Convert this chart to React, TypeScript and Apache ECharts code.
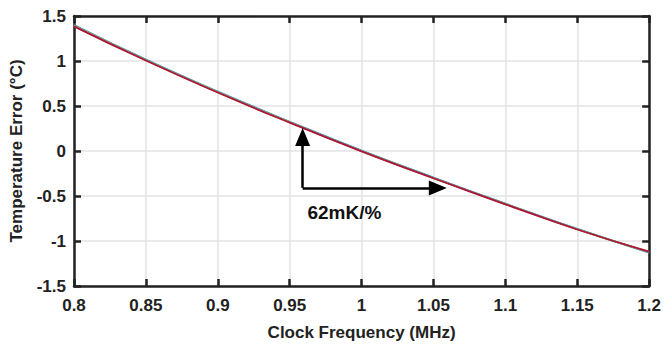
import React, { useEffect, useRef } from "react";
import * as echarts from "echarts";

const freqs = [0.8, 0.85, 0.9, 0.95, 1.0, 1.05, 1.1, 1.15, 1.2];
const errBlue = [1.4, 1.015, 0.66, 0.325, 0.005, -0.295, -0.585, -0.865, -1.13];
const errTeal = [1.395, 1.012, 0.656, 0.322, 0.002, -0.298, -0.588, -0.868, -1.125];
const errGreen = [1.39, 1.008, 0.652, 0.318, -0.002, -0.301, -0.59, -0.87, -1.12];
const errRed = [1.385, 1.005, 0.65, 0.315, -0.004, -0.303, -0.592, -0.872, -1.118];
const xTicks = [0.8, 0.85, 0.9, 0.95, 1, 1.05, 1.1, 1.15, 1.2];
const yTicks = [-1.5, -1, -0.5, 0, 0.5, 1, 1.5];
// arrow anchors (centre of each arrowhead)
const arrowCorner = [0.959, -0.41];
const arrowUpHead = [0.959, 0.155];
const arrowRightHead = [1.053, -0.41];
const slopeLabel = "62mK/%";

const FONT = "'Liberation Sans', Arial, sans-serif";

export default function App() {
  const ref = useRef<HTMLDivElement>(null);
  useEffect(() => {
    const chart = echarts.init(ref.current!, null, { renderer: "svg" });
    const mk = (data: number[], color: string, extra: any = {}) => ({
      type: "line",
      data: freqs.map((f, i) => [f, data[i]]),
      showSymbol: false,
      smooth: true,
      lineStyle: { color, width: 1.8 },
      z: 3,
      ...extra,
    });
    const boxLine = { show: true, onZero: false, lineStyle: { color: "#222", width: 2.5 } };
    const boxTick = { show: true, inside: true, length: 7, lineStyle: { color: "#222", width: 2.5 } };
    chart.setOption({
      animation: false,
      grid: { left: 74, right: 12, top: 16, bottom: 64 },
      xAxis: [
        {
          type: "value",
          min: 0.8,
          max: 1.2,
          interval: 0.05,
          name: "Clock Frequency (MHz)",
          nameLocation: "middle",
          nameGap: 38,
          nameTextStyle: { fontFamily: FONT, fontWeight: "bold", fontSize: 17, color: "#222" },
          axisLine: boxLine,
          axisTick: boxTick,
          axisLabel: {
            fontFamily: FONT,
            fontWeight: "bold",
            fontSize: 17,
            color: "#222",
            margin: 11,
            formatter: (v: number) => {
              const r = +v.toFixed(2);
              return xTicks.includes(r) ? String(r) : "";
            },
          },
          splitLine: { show: true, lineStyle: { color: "#e3e3e3", width: 1.5 } },
        },
        {
          type: "value",
          position: "top",
          min: 0.8,
          max: 1.2,
          interval: 0.05,
          axisLine: boxLine,
          axisTick: boxTick,
          axisLabel: { show: false },
          splitLine: { show: false },
        },
      ],
      yAxis: [
        {
          type: "value",
          min: -1.5,
          max: 1.5,
          interval: 0.5,
          name: "Temperature Error (°C)",
          nameLocation: "middle",
          nameGap: 49,
          nameTextStyle: { fontFamily: FONT, fontWeight: "bold", fontSize: 17, color: "#222" },
          axisLine: boxLine,
          axisTick: boxTick,
          axisLabel: {
            fontFamily: FONT,
            fontWeight: "bold",
            fontSize: 17,
            color: "#222",
            margin: 8,
            formatter: (v: number) => (yTicks.includes(v) ? String(v) : ""),
          },
          splitLine: { show: true, lineStyle: { color: "#e3e3e3", width: 1.5 } },
        },
        {
          type: "value",
          position: "right",
          min: -1.5,
          max: 1.5,
          interval: 0.5,
          axisLine: boxLine,
          axisTick: boxTick,
          axisLabel: { show: false },
          splitLine: { show: false },
        },
      ],
      series: [
        mk(errBlue, "#3a6fc4"),
        mk(errTeal, "#3fb0c8"),
        mk(errGreen, "#9cbf3a"),
        mk(errRed, "#b0123c", {
          markLine: {
            silent: true,
            symbol: ["none", "triangle"],
            symbolSize: [15, 18],
            label: { show: false },
            lineStyle: { color: "#000", width: 2.5, type: "solid" },
            data: [
              [{ coord: arrowCorner }, { coord: arrowUpHead }],
              [{ coord: arrowCorner }, { coord: arrowRightHead }],
            ],
          },
          markPoint: {
            silent: true,
            symbol: "rect",
            symbolSize: 1,
            itemStyle: { color: "transparent" },
            data: [
              {
                coord: [0.988, -0.68],
                label: {
                  show: true,
                  formatter: slopeLabel,
                  fontFamily: FONT,
                  fontWeight: "bold",
                  fontSize: 19,
                  color: "#111",
                },
              },
            ],
          },
        }),
      ],
    });
    return () => chart.dispose();
  }, []);
  return <div ref={ref} style={{ width: 664, height: 350, position: "absolute", left: 0, top: 0, background: "#fff" }} />;
}
